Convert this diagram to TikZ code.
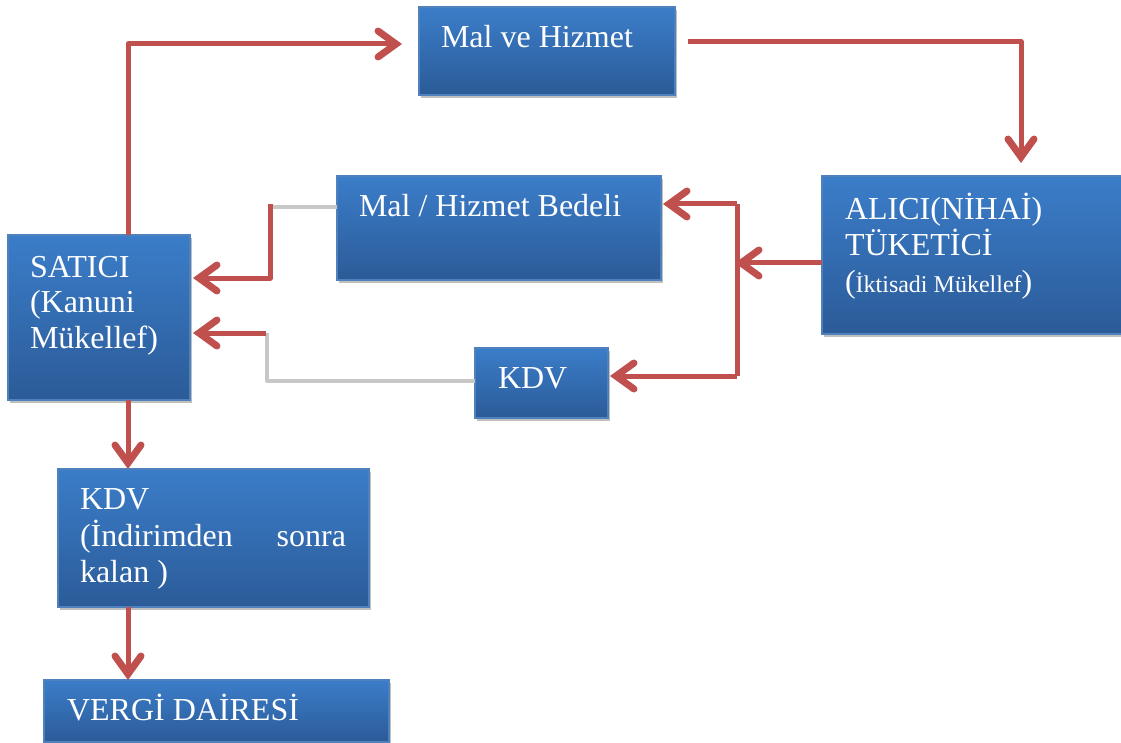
\documentclass[tikz,border=0pt]{standalone}
\usepackage{fontspec}
\setmainfont{Liberation Serif}
\usetikzlibrary{arrows.meta,shadows,calc}
\definecolor{boxtop}{RGB}{59,125,201}
\definecolor{boxbot}{RGB}{43,91,152}
\definecolor{boxline}{RGB}{79,129,189}
\definecolor{arrred}{RGB}{192,80,77}
\begin{document}
\begin{tikzpicture}[x=1pt,y=-1pt,
  box/.style={rectangle, anchor=north west, top color=boxtop, bottom color=boxbot,
    draw=boxline, line width=1.2pt, inner sep=0pt, outer sep=0pt,
    drop shadow={shadow xshift=1.5pt, shadow yshift=-3pt, opacity=0.25, fill=black}},
  txt/.style={text=white, font=\fontsize{32}{36}\selectfont, inner sep=0pt, outer sep=0pt,
    anchor=base west, align=left},
  arr/.style={draw=arrred, line width=5pt, line join=round,
    -{Straight Barb[length=18pt,width=26pt,line width=7pt,line cap=round]}},
  redline/.style={draw=arrred, line width=5pt},
  grayline/.style={draw=black!22, line width=4pt, line join=round}]
\useasboundingbox (0,0) rectangle (1121,743);

% boxes
\node[box, minimum width=256, minimum height=88] (mvh) at (419,7) {};
\node[box, minimum width=301, minimum height=158] (alici) at (822,176) {};
\node[box, minimum width=324, minimum height=104] (bedel) at (337,176) {};
\node[box, minimum width=182, minimum height=165] (satici) at (8,235) {};
\node[box, minimum width=133, minimum height=70] (kdv) at (475,348) {};
\node[box, minimum width=311, minimum height=138] (kdvb) at (58,469) {};
\node[box, minimum width=345, minimum height=62] (vergi) at (44,680) {};

% texts
\node[txt] (tmvh) at (441,48) {Mal ve Hizmet};
\node[txt] (talici1) at (845,220) {ALICI(NİHAİ)};
\node[txt] (talici2) at (845,256) {TÜKETİCİ};
\node[txt] (talici3) at (845,292) {(\fontsize{24}{36}\selectfont İktisadi Mükellef\fontsize{32}{36}\selectfont)};
\node[txt] (tbedel) at (359,217) {Mal / Hizmet Bedeli};
\node[txt] (tsat1) at (30,277) {SATICI};
\node[txt] (tsat2) at (30,312) {(Kanuni};
\node[txt] (tsat3) at (30,348) {Mükellef)};
\node[txt] (tkdv) at (498,388) {KDV};
\node[txt] (tkdvb1) at (80,509) {KDV};
\node[txt, text width=266] (tkdvb2) at (80,546) {(İndirimden\hfill sonra};
\node[txt] (tkdvb3) at (80,582) {kalan )};
\node[txt] (tvergi) at (67,720) {VERGİ DAİRESİ};

% junction coordinates
\coordinate (jt) at (737,204);
\coordinate (jm) at (737,263);
\coordinate (jb) at (737,376);
\coordinate (g1) at (270,207);
\coordinate (s1) at (190,278);
\coordinate (g2) at (267,381);
\coordinate (g2b) at (267,333);
\coordinate (s2) at (190,333);

% top loop
\draw[arr, shorten >=17pt] ([xshift=29]satici.north) |- ([yshift=7]mvh.west);
\draw[arr, shorten >=13pt] ([xshift=13,yshift=9]mvh.east) -| ([xshift=48.5]alici.north);

% buyer payments
\draw[redline] (jt) -- (jb);
\draw[arr, shorten >=-2pt] (alici.west |- jm) -- (jm);
\draw[arr, shorten >=2pt] (jt) -- (jt -| bedel.east);
\draw[arr, shorten >=2pt] (jb) -- (jb -| kdv.east);

% to seller
\draw[grayline] (g1 -| bedel.west) -- (g1);
\draw[arr, shorten >=3pt] ([yshift=2.5]g1) |- (s1);
\draw[grayline] (g2 -| kdv.west) -- (g2) -- (g2b);
\draw[arr, shorten >=3pt] ([xshift=-1]g2b) -- (s2);

% down chain
\draw[arr] ([xshift=29]satici.south) -- ([xshift=29]satici.south |- kdvb.north);
\draw[arr] ([xshift=-85.5]kdvb.south) -- ([xshift=-85.5]kdvb.south |- vergi.north);
\end{tikzpicture}
\end{document}
